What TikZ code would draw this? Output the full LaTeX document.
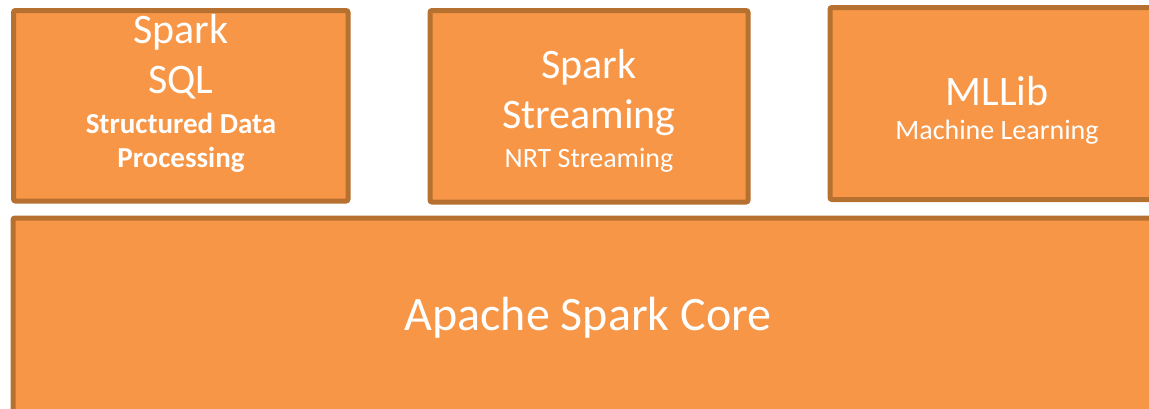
\documentclass[tikz,border=0pt]{standalone}
\usepackage{fontspec}
\setmainfont{Carlito}
\usepackage{tikz}
\definecolor{sparkfill}{HTML}{F79646}
\definecolor{sparkline}{HTML}{B6702F}

\begin{document}
\begin{tikzpicture}[x=0.5pt, y=-0.5pt,
  layer/.style={draw=sparkline, fill=sparkfill, line width=2.5pt, rounded corners=1pt},
  title/.style={text=white, align=center, font=\fontsize{21}{25}\selectfont},
  subtitle/.style={text=white, align=center, font=\fontsize{14}{17}\selectfont}]
\useasboundingbox (0,0) rectangle (1149,408);
\clip (0,0) rectangle (1149,408);
% the three libraries on top
\draw[layer] (13.5,10.5) rectangle (348,201) coordinate (sqlbox);
\draw[layer] (430,10.5) rectangle (748,202) coordinate (streambox);
\draw[layer] (830,7.5) rectangle (1180,199.5) coordinate (mlbox);
% the core underneath
\draw[layer] (13,218) rectangle (1180,440) coordinate (corebox);
\node[title] (sql) at (181,57) {Spark\\SQL};
\node[subtitle, font=\fontsize{14.5}{17}\selectfont\bfseries] (sqlsub) at (181,143) {Structured Data\\Processing};
\node[title] (stream) at (589,93) {Spark\\Streaming};
\node[subtitle] (streamsub) at (589,160) {NRT Streaming};
\node[title] (ml) at (997,91) {MLLib};
\node[subtitle] (mlsub) at (997,132) {Machine Learning};
\node[text=white, font=\fontsize{24}{28}\selectfont] (core) at (588,318) {Apache Spark Core};
\end{tikzpicture}
\end{document}
